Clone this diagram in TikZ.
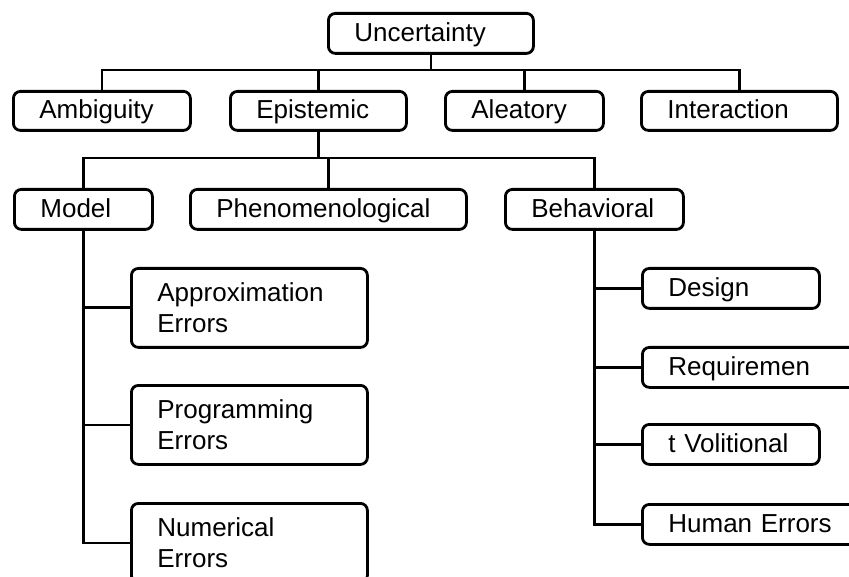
\documentclass[tikz,border=0pt]{standalone}
\usepackage{fontspec}
\setmainfont{Liberation Sans}
\begin{document}
\begin{tikzpicture}[x=1pt,y=-1pt,
  bbase/.style={draw, line width=2.8pt, rounded corners=7pt, anchor=north west,
    inner xsep=26pt, inner ysep=0pt, align=left,
    font=\fontsize{26}{31.5}\selectfont},
  box/.style={bbase, minimum height=40pt, text height=22pt, text depth=6pt},
  tall/.style={bbase, minimum height=79pt},
  conn/.style={line width=2.8pt}]
\useasboundingbox (0,0) rectangle (849,577);
% level 0
\node[box, text width=153pt] (unc) at (327,12) {Uncertainty};
% level 1
\node[box, text width=125pt, minimum height=39pt] (amb) at (12,90) {Ambiguity};
\node[box, text width=124pt, minimum height=39pt] (epi) at (229,90) {Epistemic};
\node[box, text width=106pt, minimum height=39pt] (ale) at (444,90) {Aleatory};
\node[box, text width=144pt, minimum height=39pt] (int) at (640,90) {Interaction};
% level 2
\node[box, text width=86pt] (mod) at (13,188) {Model};
\node[box, text width=224pt] (phe) at (189,188) {Phenomenological};
\node[box, text width=126pt] (beh) at (504,188) {Behavioral};
% model children
\node[tall, text width=184pt] (app) at (130,267) {Approximation\\Errors};
\node[tall, text width=184pt] (prg) at (130,384) {Programming\\Errors};
\node[tall, text width=184pt] (num) at (130,502) {Numerical\\Errors};
% behavioral children
\node[box, text width=125pt] (des) at (641,267) {Design};
\node[box, text width=190pt] (req) at (641,346) {Requiremen};
\node[box, text width=125pt] (vol) at (641,423) {t Volitional};
\node[box, text width=190pt] (hum) at (641,503) {Human Errors};
% connectors
\coordinate (bar1) at (0,70);
\coordinate (bar2) at (0,158);
\draw[conn] (amb.north) |- (bar1 -| int.north) -- (int.north);
\draw[conn] (unc.south) -- (unc.south |- bar1);
\draw[conn] (epi.north) -- (epi.north |- bar1);
\draw[conn] (ale.north) -- (ale.north |- bar1);
\draw[conn] (mod.north) |- (bar2 -| beh.north) -- (beh.north);
\draw[conn] (epi.south) -- (epi.south |- bar2);
\draw[conn] (phe.north) -- (phe.north |- bar2);
\draw[conn] (mod.south) |- (num.west);
\draw[conn] (app.west) -- (app.west -| mod.south);
\draw[conn] (prg.west) -- (prg.west -| mod.south);
\draw[conn] (beh.south) |- (hum.west);
\draw[conn] (des.west) -- (des.west -| beh.south);
\draw[conn] (req.west) -- (req.west -| beh.south);
\draw[conn] (vol.west) -- (vol.west -| beh.south);
\end{tikzpicture}
\end{document}
